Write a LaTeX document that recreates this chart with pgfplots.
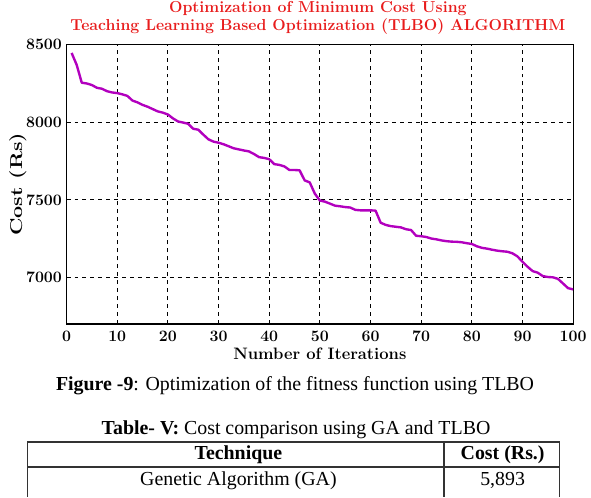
\documentclass[border=0pt]{standalone}
\usepackage{pgfplots}
\pgfplotsset{compat=1.18}
\usepackage{fontspec}
\newfontfamily\tnr{Liberation Serif}

\definecolor{titlered}{RGB}{232,28,28}
\definecolor{curve}{RGB}{178,0,190}

\begin{document}
\begin{tikzpicture}
\begin{scope}[x=0.75pt,y=-0.75pt]
\path[use as bounding box] (0,0) rectangle (591,496);
% chart title
\node[font=\fontsize{12}{14}\selectfont\bfseries, text=titlered] at (320,9) {Optimization of Minimum Cost Using};
\node[font=\fontsize{12}{14}\selectfont\bfseries, text=titlered] at (320,27) {Teaching Learning Based Optimization (TLBO) ALGORITHM};
\end{scope}

\begin{axis}[
  at={(50.25pt,-244.5pt)}, anchor=south west,
  scale only axis, width=382.5pt, height=210.75pt,
  xmin=0, xmax=100, ymin=6700, ymax=8500,
  xtick={0,10,...,100}, ytick={7000,7500,8000,8500},
  major tick length=0pt,
  grid=major,
  major grid style={black, line width=0.6pt, dash pattern=on 3pt off 3pt},
  axis line style={black, line width=1pt},
  /pgf/number format/assume math mode=true,
  /pgf/number format/1000 sep={},
  ticklabel style={font=\fontsize{12}{14}\selectfont\bfseries},
  xticklabel style={yshift=-2pt},
  xlabel={Number of Iterations},
  ylabel={\scalebox{1.25}[1]{Cost (Rs)}},
  xlabel style={font=\fontsize{12.5}{14}\selectfont\bfseries, at={(axis description cs:0.5,-0.107)}, anchor=center},
  ylabel style={font=\fontsize{13}{15}\selectfont\bfseries, at={(axis description cs:-0.096,0.5)}, anchor=center},
]
\addplot[curve, line width=1.8pt, line join=round] coordinates {
(1,8447) (2,8370) (3,8255) (4,8250) (5,8240) (6,8222) (7,8216) (8,8200) (9,8192) (10,8188)
(11,8180) (12,8170) (13,8140) (14,8128) (15,8112) (16,8100) (17,8085) (18,8070) (19,8062) (20,8050)
(21,8025) (22,8005) (23,7998) (24,7990) (25,7958) (26,7952) (27,7920) (28,7890) (29,7875) (30,7868)
(31,7858) (32,7845) (33,7832) (34,7825) (35,7818) (36,7812) (37,7795) (38,7775) (39,7770) (40,7762)
(41,7730) (42,7725) (43,7715) (44,7692) (45,7692) (46,7690) (47,7625) (48,7612) (49,7540) (50,7495)
(51,7488) (52,7475) (53,7462) (54,7458) (55,7453) (56,7450) (57,7435) (58,7432) (59,7432) (60,7432)
(61,7430) (62,7352) (63,7338) (64,7330) (65,7326) (66,7322) (67,7310) (68,7305) (69,7268) (70,7265)
(71,7260) (72,7250) (73,7245) (74,7238) (75,7233) (76,7230) (77,7229) (78,7226) (79,7220) (80,7215)
(81,7200) (82,7190) (83,7185) (84,7178) (85,7172) (86,7168) (87,7165) (88,7155) (89,7135) (90,7100)
(91,7068) (92,7040) (93,7030) (94,7008) (95,7002) (96,7000) (97,6990) (98,6960) (99,6930) (100,6922)
};
\end{axis}

\begin{scope}[x=0.75pt,y=-0.75pt]
% figure caption
\node[font=\tnr\fontsize{15}{18}\selectfont] at (297,388) {\textbf{Figure -9}: Optimization of the fitness function using TLBO};
% table caption and table
\node[font=\tnr\fontsize{15}{18}\selectfont] at (298,433) {\textbf{Table- V:} Cost comparison using GA and TLBO};
\draw[line width=1pt, black!80] (28,500) -- (28,445) -- (563,445) -- (563,500);
\draw[line width=1pt, black!80] (447,445) -- (447,500);
\draw[line width=1pt, black!80] (28,470) -- (563,470);
\node[font=\tnr\fontsize{15}{18}\selectfont\bfseries] at (240,458) {Technique};
\node[font=\tnr\fontsize{15}{18}\selectfont\bfseries] at (506,458) {Cost (Rs.)};
\node[font=\tnr\fontsize{15}{18}\selectfont] at (240,484) {Genetic Algorithm (GA)};
\node[font=\tnr\fontsize{15}{18}\selectfont] at (506,484) {5,893};
\end{scope}
\end{tikzpicture}
\end{document}
